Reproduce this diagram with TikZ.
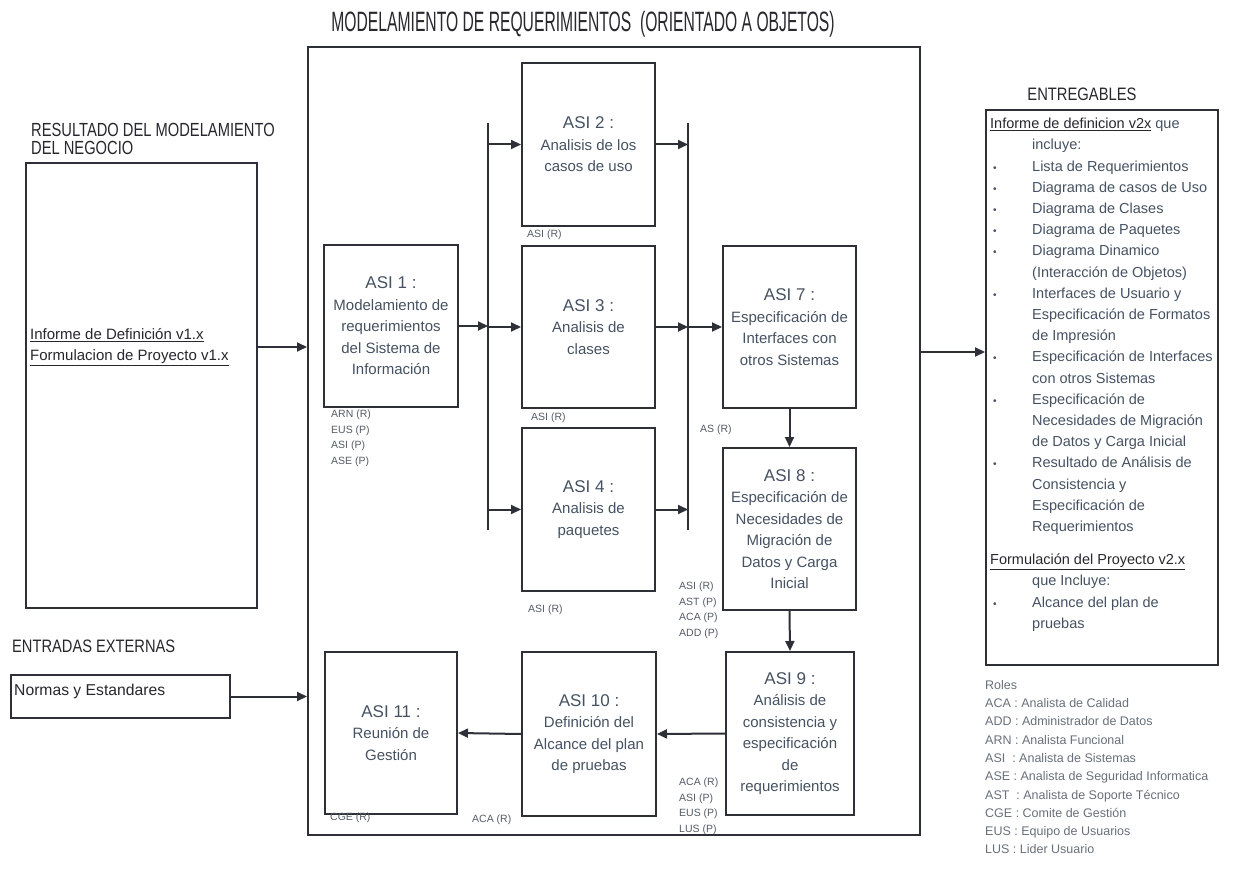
\documentclass[tikz,border=0pt]{standalone}
\usepackage{fontspec}
\setmainfont{Liberation Sans}
\usetikzlibrary{arrows.meta}
\definecolor{ln}{RGB}{45,48,55}
\definecolor{tx}{RGB}{70,82,98}
\definecolor{hd}{RGB}{38,40,46}
\definecolor{lg}{RGB}{105,112,122}
\definecolor{rl}{RGB}{85,92,102}
\newcommand\entbul{\makebox[42pt][l]{\hspace*{3pt}\scalebox{0.7}{\textbullet}}}
\newcommand\entind{\hspace*{42pt}}
\newcommand\asihead[1]{{\fontsize{17}{21.5}\selectfont #1}}
\tikzset{
 box/.style={draw=ln, line width=2pt, inner sep=0pt, align=center, text=tx, font=\fontsize{15}{21.5}\selectfont},
 arr/.style={draw=ln, line width=2pt, -{Triangle[length=10pt,width=9pt]}},
 bar/.style={draw=ln, line width=2pt},
 role/.style={text=rl, font=\fontsize{10.5}{15.5}\selectfont, inner sep=0pt, align=left},
 hdr/.style={text=hd, inner sep=0pt},
}
\begin{document}
\begin{tikzpicture}[x=1pt,y=-1pt]
\useasboundingbox[fill=white] (0,0) rectangle (1235,869);

% title and headers
\node[hdr, anchor=base] (title) at (583,32) {\fontsize{28}{30}\selectfont\scalebox{0.56}[1]{MODELAMIENTO DE REQUERIMIENTOS\ \ (ORIENTADO A OBJETOS)}};
\node[hdr, anchor=base west] (h1) at (31,137) {\fontsize{19}{20}\selectfont\scalebox{0.774}[1]{RESULTADO DEL MODELAMIENTO}};
\node[hdr, anchor=base west] (h2) at (31,155) {\fontsize{19}{20}\selectfont\scalebox{0.774}[1]{DEL NEGOCIO}};
\node[hdr, anchor=base west] (h3) at (12,652) {\fontsize{18}{20}\selectfont\scalebox{0.815}[1]{ENTRADAS EXTERNAS}};
\node[hdr, anchor=base] (h4) at (1082,101) {\fontsize{18}{20}\selectfont\scalebox{0.82}[1]{ENTREGABLES}};

% main frame
\node[draw=ln, line width=2pt, minimum width=612pt, minimum height=788pt, inner sep=0pt] (frame) at (614,441) {};

% left boxes
\node[draw=ln, line width=2.5pt, minimum width=231pt, minimum height=445pt, inner sep=0pt] (res) at (141.5,385.5) {};
\node[anchor=west, inner sep=0pt, align=left, text=hd, font=\fontsize{15}{21}\selectfont] (restxt) at (30,347)
 {\underline{Informe de Definición v1.x}\\\underline{Formulacion de Proyecto v1.x}};
\node[draw=ln, line width=2pt, minimum width=219pt, minimum height=43pt, inner sep=0pt] (normas) at (120.5,696.5) {};
\node[anchor=west, inner sep=0pt, text=hd, font=\fontsize{15.7}{18}\selectfont] (nortxt) at (14,691) {Normas y Estandares};

\draw[arr] (res.east |- restxt) -- (frame.west |- restxt);
\draw[arr] (normas.east) -- (frame.west |- normas.east);

% activity boxes
\node[box, minimum width=134pt, minimum height=162pt] (asi1) at (391,326) {\asihead{ASI 1 :}\\Modelamiento de\\requerimientos\\del Sistema de\\Información};
\node[box, minimum width=133pt, minimum height=163pt] (asi2) at (588.5,144.5) {\asihead{ASI 2 :}\\Analisis de los\\casos de uso};
\node[box, minimum width=133pt, minimum height=162pt] (asi3) at (588.5,327) {\asihead{ASI 3 :}\\Analisis de\\clases};
\node[box, minimum width=133pt, minimum height=163pt] (asi4) at (588.5,509.5) {\asihead{ASI 4 :}\\Analisis de\\paquetes};
\node[box, minimum width=133pt, minimum height=162pt] (asi7) at (789.5,327) {\asihead{ASI 7 :}\\Especificación de\\Interfaces con\\otros Sistemas};
\node[box, minimum width=133pt, minimum height=162pt] (asi8) at (789.5,529) {\asihead{ASI 8 :}\\Especificación de\\Necesidades de\\Migración de\\Datos y Carga\\Inicial};
\node[box, minimum width=128pt, minimum height=163pt] (asi9) at (790,733.5) {\asihead{ASI 9 :}\\Análisis de\\consistencia y\\especificación\\de\\requerimientos};
\node[box, minimum width=134pt, minimum height=164pt] (asi10) at (589,734) {\asihead{ASI 10 :}\\Definición del\\Alcance del plan\\de pruebas};
\node[box, minimum width=132pt, minimum height=162pt] (asi11) at (391,733) {\asihead{ASI 11 :}\\Reunión de\\Gestión};

% bars
\coordinate (b1t) at (488,123);
\coordinate (b1b) at (488,530);
\coordinate (b2t) at (688,123);
\coordinate (b2b) at (688,530);
\draw[bar] (b1t) -- (b1b);
\draw[bar] (b2t) -- (b2b);

% connectors
\draw[arr] (asi1.east) -- (asi1.east -| b1t);
\draw[arr] (b1t |- asi3.west) -- (asi3.west);
\draw[arr] (b1t |- asi2.west) -- (asi2.west);
\draw[arr] (b1t |- asi4.west) -- (asi4.west);
\draw[arr] (asi2.east) -- (asi2.east -| b2t);
\draw[arr] (asi3.east) -- (asi3.east -| b2t);
\draw[arr] (asi4.east) -- (asi4.east -| b2t);
\draw[arr] (b2t |- asi7.west) -- (asi7.west);
\draw[arr] (asi7.south) -- (asi8.north);
\draw[arr] (asi8.south) -- (asi9.north);
\draw[arr] (asi9.west) -- (asi10.east);
\draw[arr] (asi10.west) -- (asi11.east);

% deliverables
\node[draw=ln, line width=2pt, minimum width=232pt, minimum height=555pt, inner sep=0pt] (ent) at (1102,387.5) {};
\coordinate (outy) at (921,352);
\draw[arr] (frame.east |- outy) -- (ent.west |- outy);
\node[anchor=north west, inner sep=0pt, align=left, text=tx, font=\fontsize{14.5}{21.2}\selectfont] (enttxt) at (990,118) {%
{\color{hd}\underline{Informe de definicion v2x}} que\\
\entind incluye:\\
\entbul Lista de Requerimientos\\
\entbul Diagrama de casos de Uso\\
\entbul Diagrama de Clases\\
\entbul Diagrama de Paquetes\\
\entbul Diagrama Dinamico\\
\entind (Interacción de Objetos)\\
\entbul Interfaces de Usuario y\\
\entind Especificación de Formatos\\
\entind de Impresión\\
\entbul Especificación de Interfaces\\
\entind con otros Sistemas\\
\entbul Especificación de\\
\entind Necesidades de Migración\\
\entind de Datos y Carga Inicial\\
\entbul Resultado de Análisis de\\
\entind Consistencia y\\
\entind Especificación de\\
\entind Requerimientos\\[12pt]
{\color{hd}\underline{Formulación del Proyecto v2.x}}\\
\entind que Incluye:\\
\entbul Alcance del plan de\\
\entind pruebas};

% legend
\node[anchor=north west, inner sep=0pt, align=left, text=lg, font=\fontsize{12.5}{18.3}\selectfont] (legend) at (985,680) {%
Roles\\
ACA : Analista de Calidad\\
ADD : Administrador de Datos\\
ARN : Analista Funcional\\
ASI\ \ : Analista de Sistemas\\
ASE : Analista de Seguridad Informatica\\
AST\ \ : Analista de Soporte Técnico\\
CGE : Comite de Gestión\\
EUS : Equipo de Usuarios\\
LUS : Lider Usuario};

% role labels
\node[role, anchor=north west] (r1) at (331,410) {ARN (R)\\EUS (P)\\ASI (P)\\ASE (P)};
\node[role, anchor=west] (r2) at (527,235) {ASI (R)};
\node[role, anchor=west] (r3) at (531,418) {ASI (R)};
\node[role, anchor=west] (r4) at (528,610) {ASI (R)};
\node[role, anchor=west] (r5) at (700,430) {AS (R)};
\node[role, anchor=north west] (r6) at (679,582) {ASI (R)\\AST (P)\\ACA (P)\\ADD (P)};
\node[role, anchor=north west] (r7) at (679,778) {ACA (R)\\ASI (P)\\EUS (P)\\LUS (P)};
\node[role, anchor=west] (r8) at (472,820) {ACA (R)};
\node[role, anchor=west] (r9) at (330,818) {CGE (R)};
\end{tikzpicture}
\end{document}
